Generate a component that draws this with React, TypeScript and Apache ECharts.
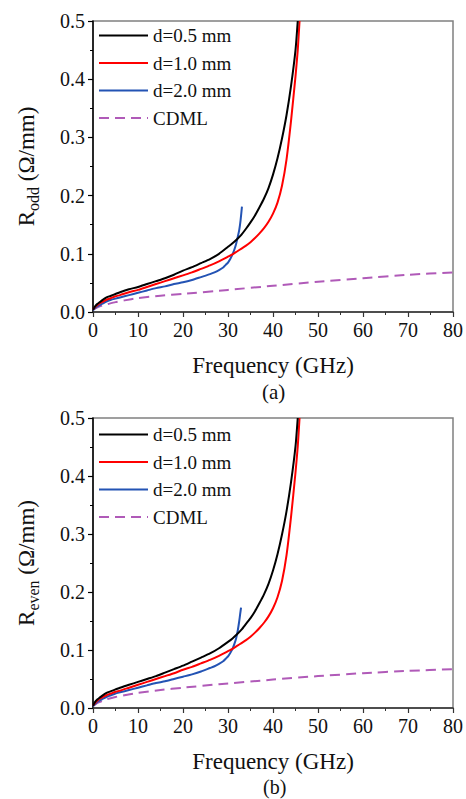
import React, { useEffect, useRef } from "react";
import * as echarts from "echarts";

// ---------- data (a) ----------
const fBlackA = [0, 0.5, 1, 1.5, 2, 3, 4, 5, 6, 8, 10, 12, 14, 16, 18, 20, 22, 24, 26, 28, 30, 31, 32, 33, 34, 35, 36, 37, 38, 39, 40, 41, 42, 43, 44, 45, 45.5];
const rBlackA = [0.004, 0.010, 0.014, 0.017, 0.020, 0.025, 0.028, 0.031, 0.034, 0.039, 0.043, 0.048, 0.053, 0.058, 0.064, 0.071, 0.077, 0.084, 0.091, 0.100, 0.112, 0.118, 0.125, 0.133, 0.143, 0.154, 0.166, 0.180, 0.195, 0.213, 0.236, 0.264, 0.298, 0.338, 0.388, 0.450, 0.5];
const fRedA = [0, 0.5, 1, 1.5, 2, 3, 4, 5, 6, 8, 10, 12, 14, 16, 18, 20, 22, 24, 26, 28, 30, 31, 32, 33, 34, 35, 36, 37, 38, 39, 40, 41, 42, 43, 44, 45, 45.5, 45.9];
const rRedA = [0.004, 0.009, 0.012, 0.015, 0.017, 0.021, 0.024, 0.027, 0.029, 0.034, 0.038, 0.043, 0.048, 0.053, 0.058, 0.063, 0.068, 0.074, 0.080, 0.087, 0.095, 0.099, 0.104, 0.109, 0.114, 0.120, 0.127, 0.135, 0.144, 0.155, 0.169, 0.188, 0.217, 0.262, 0.328, 0.405, 0.450, 0.5];
const fBlueA = [0, 0.5, 1, 1.5, 2, 3, 4, 5, 6, 8, 10, 12, 14, 16, 18, 20, 22, 24, 26, 27, 28, 29, 29.5, 30, 30.5, 31, 31.4, 31.8, 32.2, 32.5, 32.8, 33.1];
const rBlueA = [0.003, 0.007, 0.010, 0.012, 0.014, 0.018, 0.021, 0.023, 0.025, 0.029, 0.033, 0.037, 0.041, 0.044, 0.048, 0.051, 0.055, 0.060, 0.065, 0.068, 0.072, 0.077, 0.081, 0.085, 0.091, 0.099, 0.107, 0.117, 0.130, 0.141, 0.158, 0.181];
const fCdmlA = [0, 1, 2, 3, 5, 7, 10, 15, 20, 30, 40, 50, 60, 70, 80];
const rCdmlA = [0.004, 0.008, 0.011, 0.013, 0.017, 0.020, 0.024, 0.028, 0.031, 0.038, 0.045, 0.052, 0.058, 0.064, 0.068];

// ---------- data (b) ----------
const fBlackB = [0, 0.5, 1, 1.5, 2, 3, 4, 5, 6, 8, 10, 12, 14, 16, 18, 20, 22, 24, 26, 28, 30, 31, 32, 33, 34, 35, 36, 37, 38, 39, 40, 41, 42, 43, 44, 45, 45.5];
const rBlackB = [0.004, 0.011, 0.015, 0.018, 0.021, 0.026, 0.029, 0.032, 0.035, 0.040, 0.045, 0.050, 0.055, 0.061, 0.067, 0.073, 0.080, 0.087, 0.094, 0.103, 0.114, 0.120, 0.127, 0.135, 0.145, 0.155, 0.167, 0.181, 0.196, 0.214, 0.237, 0.265, 0.299, 0.339, 0.389, 0.451, 0.5];
const fRedB = [0, 0.5, 1, 1.5, 2, 3, 4, 5, 6, 8, 10, 12, 14, 16, 18, 20, 22, 24, 26, 28, 30, 31, 32, 33, 34, 35, 36, 37, 38, 39, 40, 41, 42, 43, 44, 45, 45.5, 45.9];
const rRedB = [0.004, 0.009, 0.013, 0.016, 0.018, 0.022, 0.025, 0.028, 0.030, 0.035, 0.040, 0.045, 0.050, 0.055, 0.060, 0.066, 0.071, 0.077, 0.083, 0.090, 0.098, 0.102, 0.107, 0.112, 0.117, 0.123, 0.130, 0.138, 0.147, 0.158, 0.172, 0.191, 0.219, 0.263, 0.329, 0.406, 0.451, 0.5];
const fBlueB = [0, 0.5, 1, 1.5, 2, 3, 4, 5, 6, 8, 10, 12, 14, 16, 18, 20, 22, 24, 26, 27, 28, 29, 29.5, 30, 30.5, 31, 31.4, 31.8, 32.2, 32.5, 32.7, 32.9];
const rBlueB = [0.003, 0.007, 0.011, 0.013, 0.015, 0.019, 0.022, 0.025, 0.027, 0.031, 0.035, 0.039, 0.043, 0.046, 0.050, 0.054, 0.058, 0.063, 0.069, 0.072, 0.076, 0.081, 0.085, 0.089, 0.095, 0.102, 0.110, 0.120, 0.135, 0.150, 0.162, 0.173];
const fCdmlB = [0, 1, 2, 3, 5, 7, 10, 15, 20, 28, 40, 50, 60, 70, 80];
const rCdmlB = [0.004, 0.009, 0.012, 0.015, 0.019, 0.022, 0.026, 0.031, 0.035, 0.041, 0.049, 0.055, 0.060, 0.064, 0.067];

const names = ["d=0.5 mm", "d=1.0 mm", "d=2.0 mm", "CDML"];
const colors = ["#000000", "#ff0000", "#2353b4", "#b05ab8"];
const xTicks = { min: 0, max: 80, interval: 10 };
const yTicks = { min: 0, max: 0.5, interval: 0.1 };

const FONT = "'Liberation Serif', 'Times New Roman', serif";

const zip = (xs: number[], ys: number[]) => xs.map((x, i) => [x, ys[i]]);

export default function App() {
  const ref = useRef<HTMLDivElement>(null);
  useEffect(() => {
    if (!ref.current) return;
    const chart = echarts.init(ref.current, null, { renderer: "svg" });

    const grids = [
      { left: 93, top: 21, width: 362, height: 291, show: true, borderColor: "#808080", borderWidth: 1.5 },
      { left: 93, top: 418, width: 362, height: 290, show: true, borderColor: "#808080", borderWidth: 1.5 },
    ];
    const mkX = (gi: number) => ({
      type: "value",
      gridIndex: gi,
      ...xTicks,
      name: "Frequency (GHz)",
      nameLocation: "middle",
      nameGap: 42,
      nameTextStyle: { fontFamily: FONT, fontSize: 23, color: "#111" },
      axisLine: { show: true, onZero: false, lineStyle: { color: "#333", width: 1.5 } },
      axisTick: { show: true, inside: false, length: 5, lineStyle: { color: "#333", width: 1.2 } },
      minorTick: { show: true, splitNumber: 2, length: 3, lineStyle: { color: "#333", width: 1 } },
      axisLabel: { fontFamily: FONT, fontSize: 20, color: "#111", margin: 8 },
      splitLine: { show: false },
    });
    const mkY = (gi: number, sub: string) => ({
      type: "value",
      gridIndex: gi,
      ...yTicks,
      name: `{r|R}{s|${sub}}{n| (Ω/mm)}`,
      nameLocation: "middle",
      nameGap: 52,
      nameTextStyle: {
        fontFamily: FONT,
        color: "#111",
        rich: {
          r: { fontFamily: FONT, fontSize: 23, color: "#111", lineHeight: 30, verticalAlign: "middle" },
          s: { fontFamily: FONT, fontSize: 16, color: "#111", lineHeight: 30, verticalAlign: "bottom" },
          n: { fontFamily: FONT, fontSize: 23, color: "#111", lineHeight: 30, verticalAlign: "middle" },
        },
      },
      axisLine: { show: true, onZero: false, lineStyle: { color: "#000", width: 1.5 } },
      axisTick: { show: true, inside: false, length: 5, lineStyle: { color: "#000", width: 1.2 } },
      minorTick: { show: true, splitNumber: 2, length: 3, lineStyle: { color: "#000", width: 1 } },
      axisLabel: { fontFamily: FONT, fontSize: 20, color: "#111", margin: 8, formatter: (v: number) => v.toFixed(1) },
      splitLine: { show: false },
    });

    const mkSeries = (gi: number, sets: number[][][]) =>
      sets.map((d, i) => ({
        type: "line",
        name: names[i],
        xAxisIndex: gi,
        yAxisIndex: gi,
        data: d,
        showSymbol: false,
        symbol: "none",
        smooth: 0.2,
        clip: true,
        lineStyle: { color: colors[i], width: 2, type: i === 3 ? [10, 6] : "solid" },
        itemStyle: { color: colors[i] },
        z: 5 - i,
      }));

    const legendBase = {
      orient: "vertical",
      left: 98,
      padding: 0,
      itemWidth: 49,
      itemHeight: 14,
      itemGap: 8.5,
      data: names,
      itemStyle: { color: "rgba(0,0,0,0)", borderColor: "rgba(0,0,0,0)", borderWidth: 0, opacity: 0 },
      textStyle: { fontFamily: FONT, fontSize: 19, color: "#111", padding: [0, 0, 0, 0] },
      selectedMode: false,
    };

    chart.setOption({
      animation: false,
      backgroundColor: "#ffffff",
      grid: grids,
      xAxis: [mkX(0), mkX(1)],
      yAxis: [mkY(0, "odd"), mkY(1, "even")],
      legend: [
        { ...legendBase, top: 26 },
        { ...legendBase, top: 425 },
      ],
      series: [
        ...mkSeries(0, [zip(fBlackA, rBlackA), zip(fRedA, rRedA), zip(fBlueA, rBlueA), zip(fCdmlA, rCdmlA)]),
        ...mkSeries(1, [zip(fBlackB, rBlackB), zip(fRedB, rRedB), zip(fBlueB, rBlueB), zip(fCdmlB, rCdmlB)]),
      ],
      graphic: [
        { type: "text", left: 262, top: 381, style: { text: "(a)", fontFamily: FONT, fontSize: 21, fill: "#111" } },
        { type: "text", left: 263, top: 777, style: { text: "(b)", fontFamily: FONT, fontSize: 20, fill: "#111" } },
      ],
    });
    return () => chart.dispose();
  }, []);
  return (
    <div
      ref={ref}
      style={{ position: "fixed", left: 0, top: 0, width: 466, height: 799, background: "#fff" }}
    />
  );
}
